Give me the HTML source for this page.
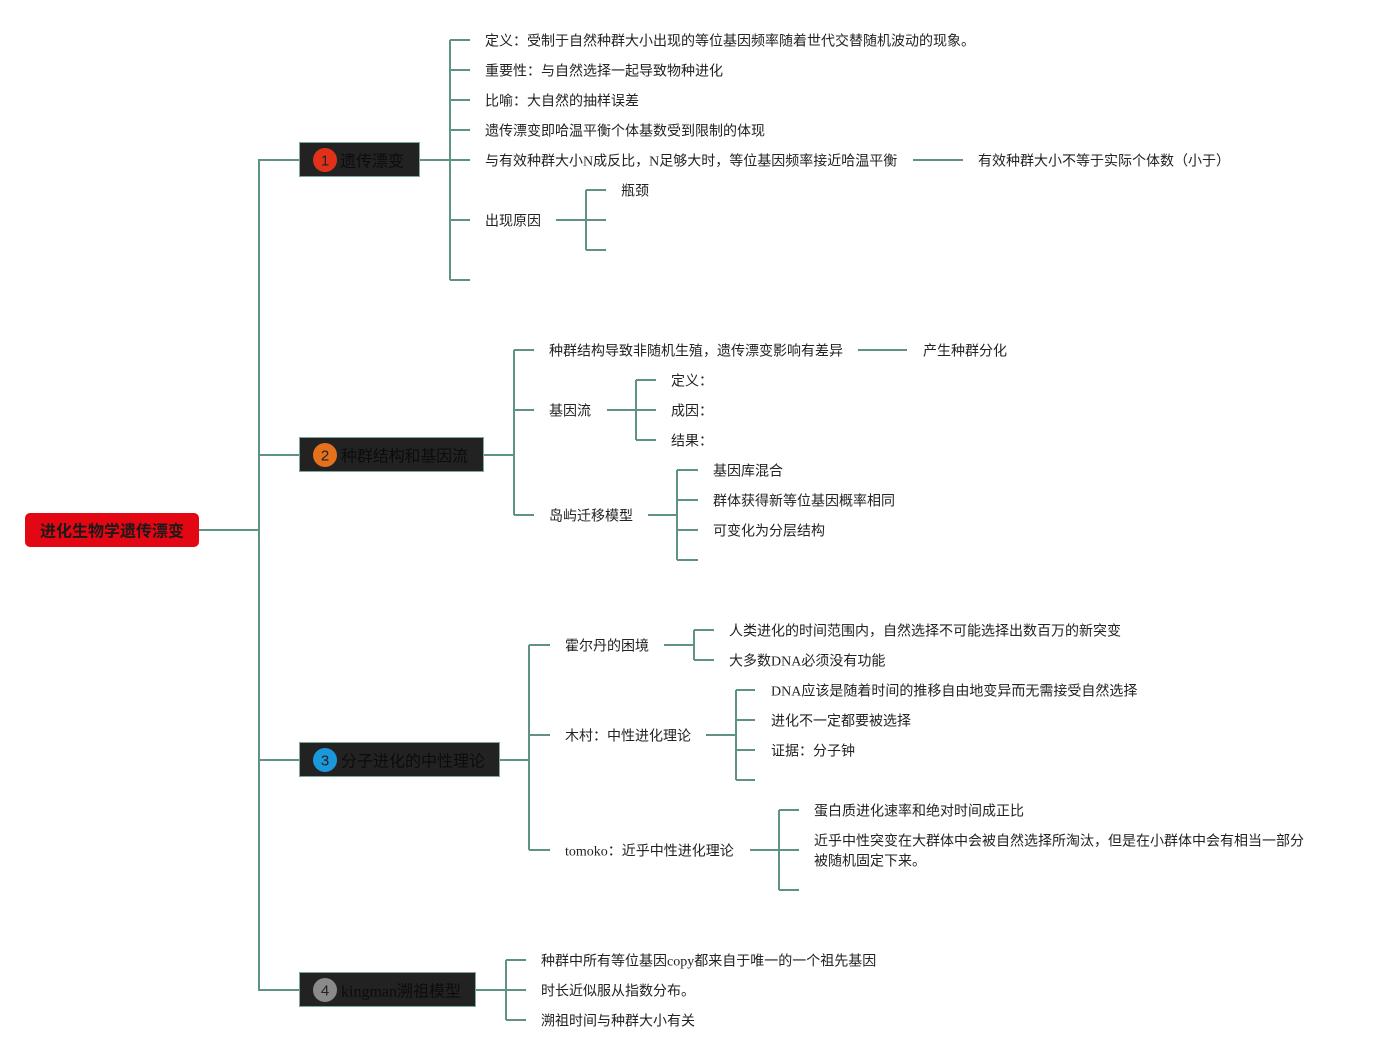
<!DOCTYPE html>
<html><head><meta charset="utf-8">
<style>
html,body{margin:0;padding:0;background:#fff;}
body{width:1374px;height:1060px;overflow:hidden;position:relative;}
svg{position:absolute;left:0;top:0;}
.t{font-family:"Liberation Serif","Noto Sans CJK SC",serif;font-size:14px;fill:#222;}
.tp{font-family:"Liberation Serif","Noto Sans CJK SC",serif;font-size:16px;fill:#0c0c0c;}
.n{font-family:"Liberation Sans","DejaVu Sans",sans-serif;font-size:15px;fill:#222;}
.r{font-family:"Liberation Sans","Noto Sans CJK SC",sans-serif;font-size:16px;font-weight:bold;fill:#1a1a1a;}
</style></head>
<body>
<svg width="1374" height="1060" viewBox="0 0 1374 1060" xmlns="http://www.w3.org/2000/svg">
<g fill="none" stroke="#5e9287" stroke-width="2">
<path d="M199,530H259M299,160H259V990H299M259,455H299M259,760H299"/>
<path d="M420,160H450M450,40V280M450,40H470M450,70H470M450,100H470M450,130H470M450,160H470M450,220H470M450,280H470"/>
<path d="M913,160H963"/>
<path d="M556,220H586M586,190V250M586,190H606M586,220H606M586,250H606"/>
<path d="M484,455H514M514,350V515M514,350H534M514,410H534M514,515H534"/>
<path d="M858,350H907"/>
<path d="M607,410H636M636,380V440M636,380H656M636,410H656M636,440H656"/>
<path d="M648,515H677M677,470V560M677,470H698M677,500H698M677,530H698M677,560H698"/>
<path d="M500,760H529M529,645V850M529,645H550M529,735H550M529,850H550"/>
<path d="M664,645H694M694,630V660M694,630H714M694,660H714"/>
<path d="M706,735H736M736,690V780M736,690H755M736,720H755M736,750H755M736,780H755"/>
<path d="M750,850H779M779,810V890M779,810H799M779,850H799M779,890H799"/>
<path d="M476,990H506M506,960V1020M506,960H526M506,990H526M506,1020H526"/>
</g>

<rect x="25" y="513" width="174" height="34" rx="5" fill="#e30613"/>
<text class="r" x="112" y="532" text-anchor="middle" dominant-baseline="central">进化生物学遗传漂变</text>

<g stroke="#7da89c" stroke-width="1" fill="#222">
<rect x="299.5" y="142.5" width="120" height="34"/>
<rect x="299.5" y="437.5" width="184" height="34"/>
<rect x="299.5" y="742.5" width="200" height="34"/>
<rect x="299.5" y="972.5" width="176" height="34"/>
</g>
<circle cx="325" cy="160" r="12" fill="#e2311b"/>
<circle cx="325" cy="455" r="12" fill="#e5711c"/>
<circle cx="325" cy="760" r="12" fill="#1b97dc"/>
<circle cx="325" cy="990" r="12" fill="#8a8a8a"/>
<text class="n" x="325" y="161" text-anchor="middle" dominant-baseline="central">1</text>
<text class="n" x="325" y="456" text-anchor="middle" dominant-baseline="central">2</text>
<text class="n" x="325" y="761" text-anchor="middle" dominant-baseline="central">3</text>
<text class="n" x="325" y="991" text-anchor="middle" dominant-baseline="central">4</text>
<text class="tp" x="340" y="162" dominant-baseline="central">遗传漂变</text>
<text class="tp" x="341" y="457" dominant-baseline="central" textLength="127" lengthAdjust="spacing">种群结构和基因流</text>
<text class="tp" x="341" y="762" dominant-baseline="central">分子进化的中性理论</text>
<text class="tp" x="341" y="992" dominant-baseline="central">kingman溯祖模型</text>

<g class="t" dominant-baseline="central">
<text x="485" y="42">定义：受制于自然种群大小出现的等位基因频率随着世代交替随机波动的现象。</text>
<text x="485" y="72">重要性：与自然选择一起导致物种进化</text>
<text x="485" y="102">比喻：大自然的抽样误差</text>
<text x="485" y="132">遗传漂变即哈温平衡个体基数受到限制的体现</text>
<text x="485" y="162">与有效种群大小N成反比，N足够大时，等位基因频率接近哈温平衡</text>
<text x="978" y="162">有效种群大小不等于实际个体数（小于）</text>
<text x="485" y="222">出现原因</text>
<text x="621" y="192">瓶颈</text>

<text x="549" y="352">种群结构导致非随机生殖，遗传漂变影响有差异</text>
<text x="923" y="352">产生种群分化</text>
<text x="549" y="412">基因流</text>
<text x="671" y="382">定义：</text>
<text x="671" y="412">成因：</text>
<text x="671" y="442">结果：</text>
<text x="549" y="517">岛屿迁移模型</text>
<text x="713" y="472">基因库混合</text>
<text x="713" y="502">群体获得新等位基因概率相同</text>
<text x="713" y="532">可变化为分层结构</text>

<text x="565" y="647">霍尔丹的困境</text>
<text x="729" y="632">人类进化的时间范围内，自然选择不可能选择出数百万的新突变</text>
<text x="729" y="662">大多数DNA必须没有功能</text>
<text x="565" y="737">木村：中性进化理论</text>
<text x="771" y="692">DNA应该是随着时间的推移自由地变异而无需接受自然选择</text>
<text x="771" y="722">进化不一定都要被选择</text>
<text x="771" y="752">证据：分子钟</text>
<text x="565" y="852">tomoko：近乎中性进化理论</text>
<text x="814" y="812">蛋白质进化速率和绝对时间成正比</text>
<text x="814" y="842">近乎中性突变在大群体中会被自然选择所淘汰，但是在小群体中会有相当一部分</text>
<text x="814" y="862">被随机固定下来。</text>

<text x="541" y="962">种群中所有等位基因copy都来自于唯一的一个祖先基因</text>
<text x="541" y="992">时长近似服从指数分布。</text>
<text x="541" y="1022">溯祖时间与种群大小有关</text>
</g>
</svg>
</body></html>
